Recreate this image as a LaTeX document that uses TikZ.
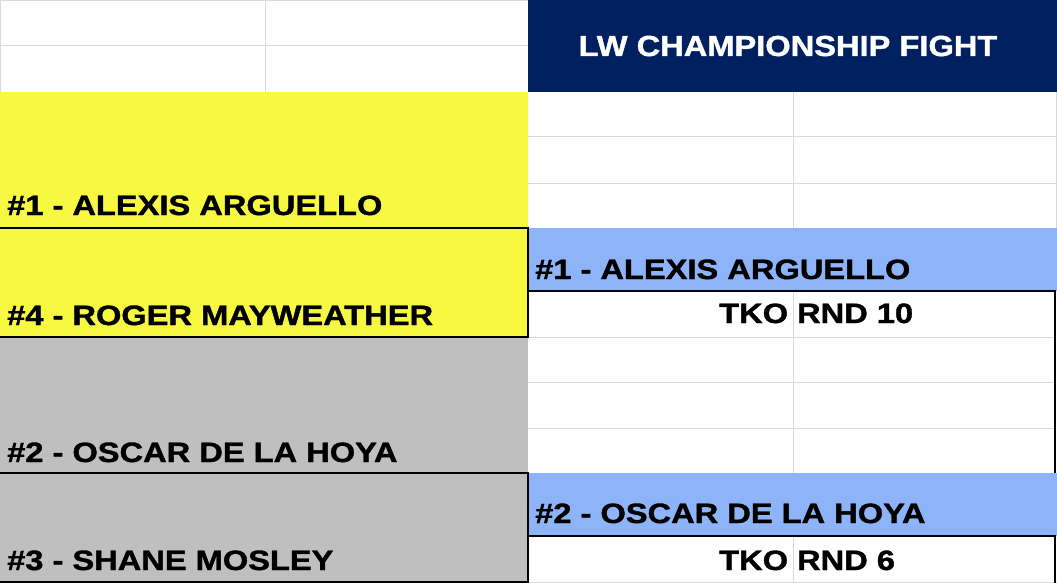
\documentclass[tikz,border=0pt]{standalone}
\usepackage{fontspec}
\setmainfont{Liberation Sans}
\newfontfamily\heavyfont{Liberation Sans}[UprightFont=*-Bold,FakeBold=1.2]
\definecolor{cyel}{RGB}{246,248,66}
\definecolor{cgray}{RGB}{191,191,191}
\definecolor{cblue}{RGB}{141,180,248}
\definecolor{cnavy}{RGB}{0,32,96}
\definecolor{cgrid}{RGB}{218,218,218}
\newcommand{\nm}[1]{\scalebox{1.165}[1]{\fontsize{28}{30}\heavyfont\bfseries #1}}
\begin{document}
\begin{tikzpicture}[x=1pt,y=-1pt,
  grid/.style={draw=cgrid,line width=1pt},
  border/.style={draw=black,line width=2pt},
  lbl/.style={inner sep=0pt,anchor=base west,text=black},
  hdr/.style={inner sep=0pt,anchor=base,text=white}]
\useasboundingbox (0,0) rectangle (1057,583);
\fill[white] (0,0) rectangle (1057,583);
% fills
\fill[cnavy] (528,0) rectangle (1057,92);
\fill[cyel] (0,92) rectangle (528,337);
\fill[cgray] (0,337) rectangle (528,583);
\fill[cblue] (528,228) rectangle (1057,291);
\fill[cblue] (528,473) rectangle (1057,536);
% gridlines
\draw[grid] (0,0.5) -- (528,0.5);
\draw[grid] (0,46) -- (528,46);
\draw[grid] (0.5,0) -- (0.5,92);
\draw[grid] (265,0) -- (265,92);
\draw[grid] (528,137) -- (1057,137);
\draw[grid] (528,183) -- (1057,183);
\draw[grid] (793,92) -- (793,228);
\draw[grid] (1056.5,92) -- (1056.5,228);
\draw[grid] (528,337) -- (1055,337);
\draw[grid] (528,382) -- (1055,382);
\draw[grid] (528,428) -- (1055,428);
\draw[grid] (793,291) -- (793,473);
\draw[grid] (793,536) -- (793,583);
\draw[grid] (528,582.5) -- (1057,582.5);
% borders
\draw[border] (0,228) -- (528,228) -- (528,337) -- (0,337);
\draw[border] (0,473) -- (528,473) -- (528,582) -- (0,582);
\draw[border] (528,291) -- (1055,291) -- (1055,473);
\draw[border] (528,536) -- (1055,536) -- (1055,583);
% header
\node[hdr] (title) at (788,56) {\scalebox{1.125}[1]{\fontsize{29}{31}\heavyfont LW CHAMPIONSHIP FIGHT}};
% left names
\node[lbl] (p1) at (7,215) {\nm{\#1 - ALEXIS ARGUELLO}};
\node[lbl] (p4) at (7,325) {\nm{\#4 - ROGER MAYWEATHER}};
\node[lbl] (p2) at (7,462) {\nm{\#2 - OSCAR DE LA HOYA}};
\node[lbl] (p3) at (7,570) {\nm{\#3 - SHANE MOSLEY}};
% winners
\node[lbl] (w1) at (535,279) {\nm{\#1 - ALEXIS ARGUELLO}};
\node[lbl] (r1) at (719,323) {\nm{TKO RND 10}};
\node[lbl] (w2) at (535,523) {\nm{\#2 - OSCAR DE LA HOYA}};
\node[lbl] (r2) at (719,570) {\nm{TKO RND 6}};
\end{tikzpicture}
\end{document}
